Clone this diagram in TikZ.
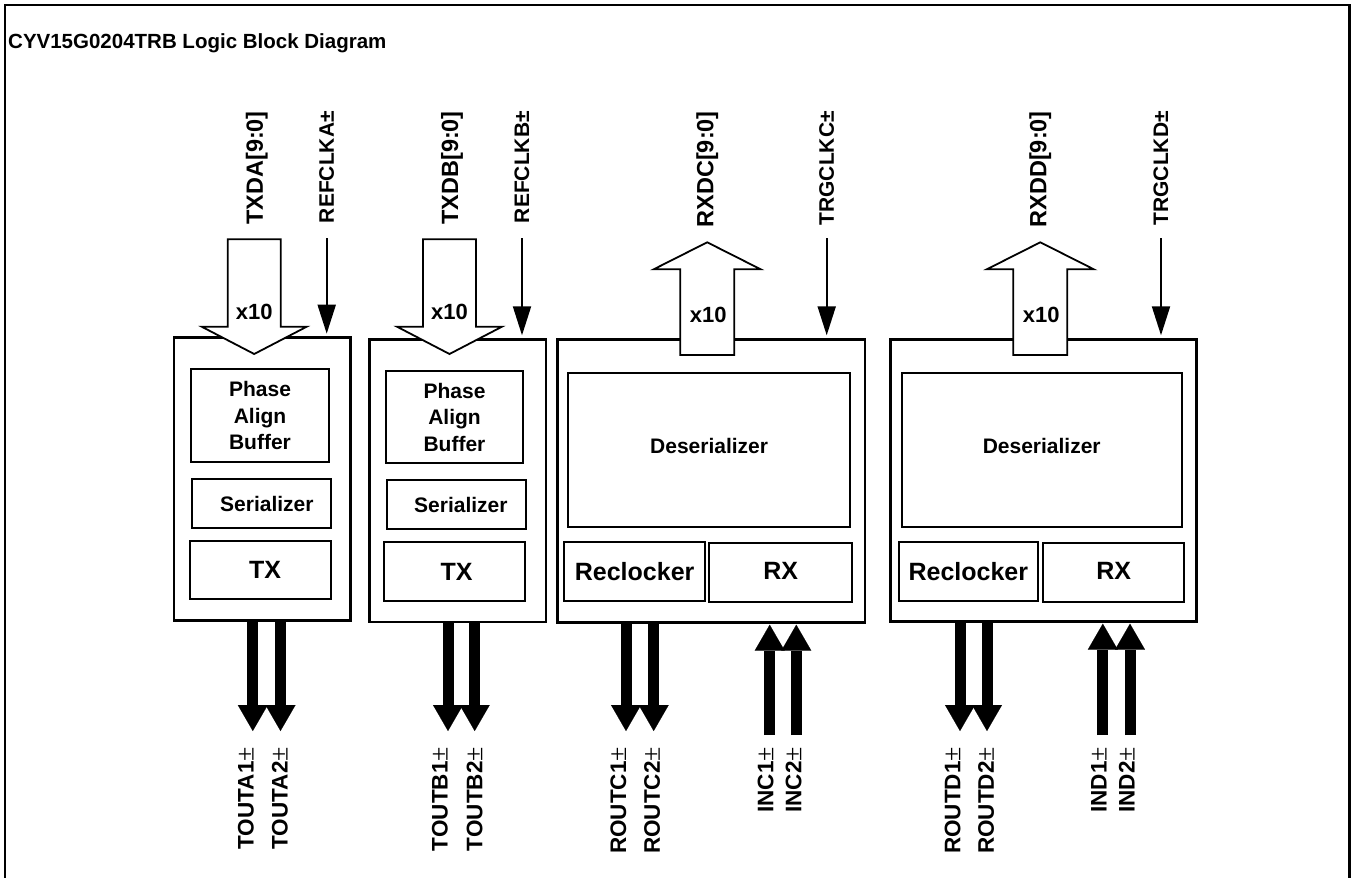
\documentclass[tikz,border=0pt]{standalone}
\usepackage{fontspec}
\setmainfont{Liberation Sans}
\newfontfamily\pmfont{Liberation Serif}
\usetikzlibrary{calc,arrows.meta}

\begin{document}
\begin{tikzpicture}[x=1pt,y=-1pt,
  blk/.style={draw, line width=2.6pt, inner sep=0pt, outer sep=0pt},
  unit/.style={draw, line width=1.8pt, inner sep=0pt, outer sep=0pt, align=center,
    font=\fontsize{21}{26.5}\selectfont\bfseries},
  bigunit/.style={unit, font=\fontsize{25}{28}\selectfont\bfseries},
  pin/.style={rotate=90, anchor=east, inner sep=0pt,
    font=\fontsize{21}{25}\selectfont\bfseries},
  datapin/.style={pin, font=\fontsize{23.5}{25}\selectfont\bfseries},
  serpin/.style={pin, font=\fontsize{22.5}{25}\selectfont\bfseries},
  bus/.style={draw, line width=1.8pt, fill=white, line join=miter},
  xten/.style={inner sep=1pt, fill=white, font=\fontsize{22}{25}\selectfont\bfseries},
  clk/.style={line width=2pt, -{Triangle[length=29pt,width=18pt]}},
  fat/.style={line width=11pt, -{Triangle[length=26pt,width=30pt,line width=0.1pt]}}
]
  \useasboundingbox (0,0) rectangle (1353,878);

  %% Frame and title
  \draw[line width=2.3pt] (5,878) -- (5,5) -- (1349.5,5) -- (1349.5,878);
  \node[anchor=base west, inner sep=0pt, font=\fontsize{20.5}{24}\selectfont\bfseries]
    (title) at (8,48.3) {CYV15G0204TRB Logic Block Diagram};

  %% Channel blocks
  \node[blk, minimum width=176.7pt, minimum height=283pt]   (blkA) at (262.35,479.2) {};
  \node[blk, minimum width=176.7pt, minimum height=282.7pt] (blkB) at (457.65,480.65) {};
  \node[blk, minimum width=307.7pt, minimum height=283.4pt] (blkC) at (711.15,481) {};
  \node[blk, minimum width=306pt,   minimum height=282.4pt] (blkD) at (1043.7,480.5) {};

  %% Transmit channels
  \node[unit, minimum width=138.6pt, minimum height=92.4pt] (pabA) at (260,415.5) {Phase\\Align\\Buffer};
  \node[unit, minimum width=139.3pt, minimum height=48.4pt] (serA) at (261.35,503.5) {\hspace*{11pt}Serializer};
  \node[bigunit, minimum width=141pt, minimum height=58.3pt] (txA) at (260.5,570.15) {\hspace*{9pt}TX};
  \node[unit, minimum width=137.6pt, minimum height=92.3pt] (pabB) at (454.5,417.15) {Phase\\Align\\Buffer};
  \node[unit, minimum width=139.3pt, minimum height=49.3pt] (serB) at (456.35,504.65) {\hspace*{9pt}Serializer};
  \node[bigunit, minimum width=141pt, minimum height=58.4pt] (txB) at (454.5,571.5) {\hspace*{4pt}TX};

  %% Receive channels
  \node[unit, minimum width=281.7pt, minimum height=154pt] (desC) at (709.15,449.7) {\raisebox{7pt}{Deserializer}};
  \node[bigunit, minimum width=140.7pt, minimum height=59pt] (recC) at (634.65,571.2) {Reclocker};
  \node[bigunit, minimum width=143pt, minimum height=59pt] (rxC) at (780.8,572.2) {\raisebox{2pt}{RX}};
  \node[unit, minimum width=280pt, minimum height=154pt] (desD) at (1041.7,449.7) {\raisebox{7pt}{Deserializer}};
  \node[bigunit, minimum width=138.7pt, minimum height=59pt] (recD) at (968.35,571.2) {Reclocker};
  \node[bigunit, minimum width=140.7pt, minimum height=59pt] (rxD) at (1113.65,572.2) {\raisebox{2pt}{RX}};

  %% Parallel buses
  \foreach \n/\cx/\txt in {A/254.2/TXDA, B/449.5/TXDB}
  {
    \draw[bus] (\cx-26.5,239.3) -- (\cx-26.5,326.7) -- (\cx-52.5,326.7) -- (\cx,354)
      -- (\cx+52.5,326.7) -- (\cx+26.5,326.7) -- (\cx+26.5,239.3) -- cycle;
    \node[xten] (xten\n) at (\cx,311.7) {x10};
    \node[datapin] (lbl\txt) at (\cx+2.5,111) {\txt[9:0]};
  }
  \foreach \n/\cx/\txt in {C/707.2/RXDC, D/1040.3/RXDD}
  {
    \draw[bus] (\cx-27,355) -- (\cx-27,269.3) -- (\cx-53.5,269.3) -- (\cx,242.3)
      -- (\cx+53.5,269.3) -- (\cx+27,269.3) -- (\cx+27,355) -- cycle;
    \node[xten] (xten\n) at (\cx+1,315) {x10};
    \node[datapin] (lbl\txt) at (\cx,111) {\txt[9:0]};
  }

  %% Clocks
  \foreach \b/\n/\x in {A/REFCLKA/326.7, B/REFCLKB/522, C/TRGCLKC/826.7, D/TRGCLKD/1161}
  {
    \coordinate (\n) at (\x,238);
    \draw[clk, shorten >=4pt] (\n) -- (blk\b.north -| \n);
    \node[pin] (lbl\n) at (\x,111) {\n±};
  }

  %% Serial outputs and inputs
  \foreach \b/\n/\sx/\lx in {A/TOUTA1/252.8/246, A/TOUTA2/280.5/280, B/TOUTB1/448/440,
    B/TOUTB2/474.7/474.7, C/ROUTC1/626/618.3, C/ROUTC2/653.7/652, D/ROUTD1/960/952.5,
    D/ROUTD2/987/986}
  {
    \coordinate (\n) at (\sx,731);
    \draw[fat] (blk\b.south -| \n) -- (\n);
    \node[serpin] (lbl\n) at (\lx,747) {\n{\pmfont\mdseries\fontsize{26}{28}\selectfont ±}};
  }
  \foreach \b/\n/\sx/\lx in {C/INC1/769.7/765.7, C/INC2/796.3/793.7, D/IND1/1102.8/1099,
    D/IND2/1130/1126.7}
  {
    \coordinate (\n) at (\sx,735);
    \draw[fat, shorten >=2pt] (\n) -- (blk\b.south -| \n);
    \node[serpin] (lbl\n) at (\lx,747) {\n{\pmfont\mdseries\fontsize{26}{28}\selectfont ±}};
  }
\end{tikzpicture}
\end{document}
